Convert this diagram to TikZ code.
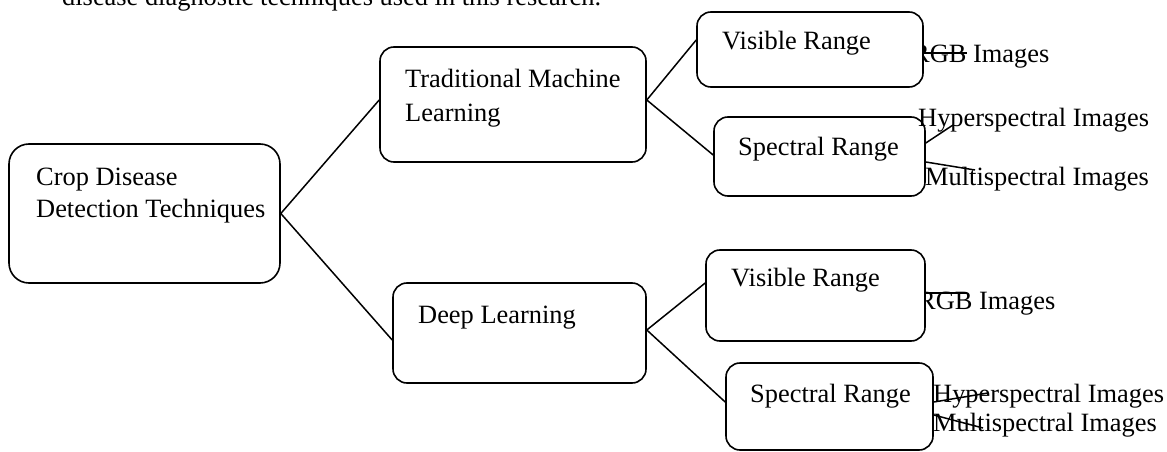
\documentclass[tikz,border=0pt]{standalone}
\usepackage{fontspec}
\setmainfont{Liberation Serif}
\begin{document}
\begin{tikzpicture}[x=1pt,y=-1pt,
  box/.style={draw, line width=1.6pt, rounded corners=14pt, fill=white, inner sep=0pt},
  txt/.style={anchor=base west, inner sep=0pt, font=\fontsize{26.4}{32}\selectfont},
  link/.style={line width=1.5pt}]
\useasboundingbox (0,0) rectangle (1167,452);
\clip (0,0) rectangle (1167,452);

% running text above the figure
\node[txt] (para) at (62,5.5) {disease diagnostic techniques used in this research.};

% labels that sit partly behind the boxes
\node[txt] (rgbA) at (912,62.5) {RGB Images};
\node[txt] (rgbB) at (918,309) {RGB Images};

% boxes
\node[box, rounded corners=20pt, minimum width=271pt, minimum height=139pt] (root) at (144.5,213.5) {};
\node[box, minimum width=266pt, minimum height=115pt] (tml) at (513,104.5) {};
\node[box, minimum width=253pt, minimum height=100pt] (dl) at (519.5,333) {};
\node[box, minimum width=226pt, minimum height=75pt] (vrA) at (810,49.5) {};
\node[box, minimum width=211pt, minimum height=79pt] (srA) at (819.5,156.5) {};
\node[box, minimum width=219pt, minimum height=91pt] (vrB) at (815.5,295.5) {};
\node[box, minimum width=207pt, minimum height=87pt] (srB) at (829.5,406.5) {};

% box texts
\node[txt] (rootA) at (36,185) {Crop Disease};
\node[txt] (rootB) at (36,217) {Detection Techniques};
\node[txt] (tmlA) at (405,87) {Traditional Machine};
\node[txt] (tmlB) at (405,121.5) {Learning};
\node[txt] (dlA) at (418,323) {Deep Learning};
\node[txt] (vrAt) at (722,50) {Visible Range};
\node[txt] (srAt) at (738,155) {Spectral Range};
\node[txt] (vrBt) at (731,286) {Visible Range};
\node[txt] (srBt) at (750,402) {Spectral Range};

% outer labels
\node[txt] (hypA) at (918,126) {Hyperspectral Images};
\node[txt] (mulA) at (925,185) {Multispectral Images};
\node[txt] (hypB) at (933,402) {Hyperspectral Images};
\node[txt] (mulB) at (933,431) {Multispectral Images};

% connector ends on the right
\coordinate (eRgbA) at (967,53);
\coordinate (eHypA) at (953,125);
\coordinate (eMulA) at (975,170);
\coordinate (eRgbB) at (967,293);
\coordinate (eHypB) at (988,393);
\coordinate (eMulB) at (983,428);

% tree connectors
\draw[link] ([yshift=4.5pt]tml.west) -- (root.east) -- ([yshift=-7pt]dl.west);
\draw[link] ([yshift=9.5pt]vrA.west) -- ([yshift=4.5pt]tml.east) -- ([yshift=1.5pt]srA.west);
\draw[link] ([yshift=12.5pt]vrB.west) -- ([yshift=3pt]dl.east) -- ([yshift=4.5pt]srB.west);

\draw[link] ([yshift=-3.5pt]vrA.east) -- (eRgbA);
\draw[link] ([yshift=13.5pt]srA.east) -- (eHypA);
\draw[link] ([yshift=-5.5pt]srA.east) -- (eMulA);
\draw[link] ([yshift=2.5pt]vrB.east) -- (eRgbB);
\draw[link] ([yshift=4.5pt]srB.east) -- (eHypB);
\draw[link] ([yshift=-8.5pt]srB.east) -- (eMulB);
\end{tikzpicture}
\end{document}
